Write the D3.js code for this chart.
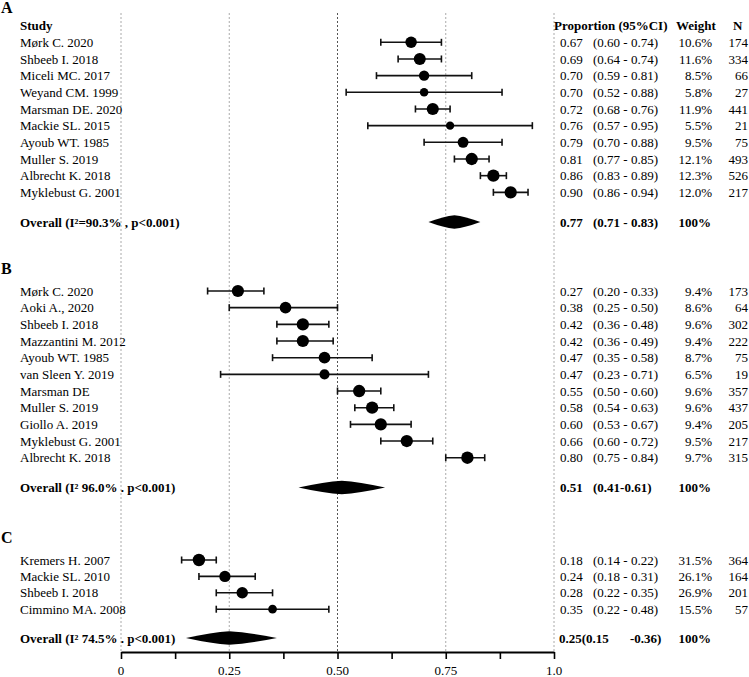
<!DOCTYPE html>
<html><head><meta charset="utf-8">
<script src="https://cdn.jsdelivr.net/npm/d3@7"></script>
<style>
body{margin:0;background:#fff;}
svg{display:block;font-family:"Liberation Serif","Times New Roman",serif;}
</style></head>
<body><svg id="c" width="749" height="677"></svg>
<script>
// ---------- data ----------
const studiesA = ["Mørk C. 2020","Shbeeb I. 2018","Miceli MC. 2017","Weyand CM. 1999","Marsman DE. 2020","Mackie SL. 2015","Ayoub WT. 1985","Muller S. 2019","Albrecht K. 2018","Myklebust G. 2001"];
const estA = [0.67,0.69,0.70,0.70,0.72,0.76,0.79,0.81,0.86,0.90];
const loA  = [0.60,0.64,0.59,0.52,0.68,0.57,0.70,0.77,0.83,0.86];
const hiA  = [0.74,0.74,0.81,0.88,0.76,0.95,0.88,0.85,0.89,0.94];
const weightA = [10.6,11.6,8.5,5.8,11.9,5.5,9.5,12.1,12.3,12.0];
const nA = [174,334,66,27,441,21,75,493,526,217];
const overallA = {label:"Overall (I²=90.3% , p<0.001)", est:0.77, lo:0.71, hi:0.83, ci:"(0.71 - 0.83)"};

const studiesB = ["Mørk C. 2020","Aoki A., 2020","Shbeeb I. 2018","Mazzantini M. 2012","Ayoub WT. 1985","van Sleen Y. 2019","Marsman DE","Muller S. 2019","Giollo A. 2019","Myklebust G. 2001","Albrecht K. 2018"];
const estB = [0.27,0.38,0.42,0.42,0.47,0.47,0.55,0.58,0.60,0.66,0.80];
const loB  = [0.20,0.25,0.36,0.36,0.35,0.23,0.50,0.54,0.53,0.60,0.75];
const hiB  = [0.33,0.50,0.48,0.49,0.58,0.71,0.60,0.63,0.67,0.72,0.84];
const weightB = [9.4,8.6,9.6,9.4,8.7,6.5,9.6,9.6,9.4,9.5,9.7];
const nB = [173,64,302,222,75,19,357,437,205,217,315];
const overallB = {label:"Overall (I² 96.0% . p<0.001)", est:0.51, lo:0.41, hi:0.61, ci:"(0.41-0.61)"};

const studiesC = ["Kremers H. 2007","Mackie SL. 2010","Shbeeb I. 2018","Cimmino MA. 2008"];
const estC = [0.18,0.24,0.28,0.35];
const loC  = [0.14,0.18,0.22,0.22];
const hiC  = [0.22,0.31,0.35,0.48];
const weightC = [31.5,26.1,26.9,15.5];
const nC = [364,164,201,57];
const overallC = {label:"Overall (I² 74.5% . p<0.001)", est:0.25, lo:0.15, hi:0.36, ci:null};

const axisTicks = [0,0.125,0.25,0.375,0.5,0.625,0.75,0.875,1.0];
const axisLabels = ["0","0.25","0.50","0.75","1.0"];
const axisLabelValues = [0,0.25,0.5,0.75,1.0];
const gridValues = [0,0.25,0.5,0.75,1.0];

// ---------- layout ----------
const svg = d3.select("#c");
const x = d3.scaleLinear().domain([0,1]).range([121,554]);
const f2 = d3.format(".2f");
const FS = 13;

const panels = [
  {letter:"A", letterY:13, studies:studiesA, est:estA, lo:loA, hi:hiA, w:weightA, n:nA, ov:overallA,
   y:d3.scaleLinear().domain([0,1]).range([42.3,58.97]), ovY:222},
  {letter:"B", letterY:274, studies:studiesB, est:estB, lo:loB, hi:hiB, w:weightB, n:nB, ov:overallB,
   y:d3.scaleLinear().domain([0,1]).range([291,307.67]), ovY:487.5},
  {letter:"C", letterY:543, studies:studiesC, est:estC, lo:loC, hi:hiC, w:weightC, n:nC, ov:overallC,
   y:d3.scaleLinear().domain([0,1]).range([560,576.4]), ovY:638}
];

// gridlines
svg.append("g").selectAll("line").data(gridValues).join("line")
  .attr("x1",d=>x(d)).attr("x2",d=>x(d)).attr("y1",13).attr("y2",651)
  .attr("stroke",d=>d===0.5?"#555":"#aaa").attr("stroke-width",1)
  .attr("stroke-dasharray","2,2");

// header
const hdr = svg.append("g").attr("font-weight","bold").attr("font-size",FS).attr("fill","#000");
hdr.append("text").attr("x",20).attr("y",25).attr("dy","0.35em").text("Study");
hdr.append("text").attr("x",554).attr("y",25).attr("dy","0.35em").text("Proportion (95%CI)");
hdr.append("text").attr("x",676).attr("y",25).attr("dy","0.35em").text("Weight");
hdr.append("text").attr("x",733).attr("y",25).attr("dy","0.35em").text("N");

panels.forEach(p=>{
  const g = svg.append("g").attr("font-size",FS).attr("fill","#000");
  g.append("text").attr("x",1).attr("y",p.letterY).attr("font-size",16).attr("font-weight","bold").text(p.letter);
  const maxW = d3.max(p.w);
  const r = d3.scaleSqrt().domain([0,maxW]).range([0,6.2]);
  const idx = d3.range(p.studies.length);
  const rows = g.selectAll("g.row").data(idx).join("g").attr("class","row");
  rows.append("text").attr("x",20).attr("y",i=>p.y(i)).attr("dy","0.35em").text(i=>p.studies[i]);
  // CI lines
  rows.append("line").attr("x1",i=>x(p.lo[i])).attr("x2",i=>x(p.hi[i]))
    .attr("y1",i=>p.y(i)).attr("y2",i=>p.y(i)).attr("stroke","#111").attr("stroke-width",1.6);
  ["lo","hi"].forEach(k=>{
    rows.append("line").attr("x1",i=>x(p[k][i])).attr("x2",i=>x(p[k][i]))
      .attr("y1",i=>p.y(i)-3.5).attr("y2",i=>p.y(i)+3.5).attr("stroke","#111").attr("stroke-width",1.6);
  });
  rows.append("circle").attr("cx",i=>x(p.est[i])).attr("cy",i=>p.y(i)).attr("r",i=>r(p.w[i])).attr("fill","#000");
  // table
  rows.append("text").attr("x",560).attr("y",i=>p.y(i)).attr("dy","0.35em").text(i=>f2(p.est[i]));
  rows.append("text").attr("x",593).attr("y",i=>p.y(i)).attr("dy","0.35em").text(i=>`(${f2(p.lo[i])} - ${f2(p.hi[i])})`);
  rows.append("text").attr("x",712).attr("y",i=>p.y(i)).attr("dy","0.35em").attr("text-anchor","end").text(i=>p.w[i].toFixed(1)+"%");
  rows.append("text").attr("x",748).attr("y",i=>p.y(i)).attr("dy","0.35em").attr("text-anchor","end").text(i=>p.n[i]);
  // overall
  const o = p.ov, oy = p.ovY;
  const og = g.append("g").attr("font-weight","bold");
  og.append("text").attr("x",20).attr("y",oy).attr("dy","0.35em").text(o.label);
  const xl=x(o.lo), xc=x(o.est), xh=x(o.hi), h=6.8;
  const path = d3.path();
  path.moveTo(xl,oy);
  path.quadraticCurveTo(xc-(xc-xl)*0.4,oy-h*0.85,xc,oy-h);
  path.quadraticCurveTo(xc+(xh-xc)*0.4,oy-h*0.85,xh,oy);
  path.quadraticCurveTo(xc+(xh-xc)*0.4,oy+h*0.85,xc,oy+h);
  path.quadraticCurveTo(xc-(xc-xl)*0.4,oy+h*0.85,xl,oy);
  path.closePath();
  og.append("path").attr("d",path.toString()).attr("fill","#000");
  if(o.ci){
    og.append("text").attr("x",560).attr("y",oy).attr("dy","0.35em").text(f2(o.est));
    og.append("text").attr("x",593).attr("y",oy).attr("dy","0.35em").text(o.ci);
  } else {
    og.append("text").attr("x",559).attr("y",oy).attr("dy","0.35em").text(f2(o.est)+"("+f2(o.lo));
    og.append("text").attr("x",630).attr("y",oy).attr("dy","0.35em").text("-"+f2(o.hi)+")");
  }
  og.append("text").attr("x",711).attr("y",oy).attr("dy","0.35em").attr("text-anchor","end").text("100%");
});

// axis
const axis = d3.axisBottom(x).tickValues(axisTicks).tickSize(7).tickSizeOuter(0).tickFormat("");
const ag = svg.append("g").attr("transform","translate(0,652)").call(axis);
ag.select(".domain").attr("stroke","#000").attr("stroke-width",1.8);
ag.selectAll(".tick line").attr("stroke","#000").attr("stroke-width",1.6);
svg.append("g").selectAll("text").data(axisLabelValues).join("text")
  .attr("x",d=>x(d)).attr("y",675).attr("text-anchor","middle")
  .attr("font-size",FS).attr("fill","#000")
  .text((d,i)=>axisLabels[i]);
</script></body></html>
